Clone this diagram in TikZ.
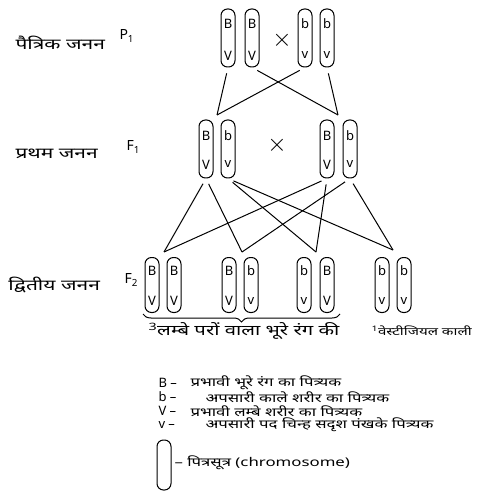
\documentclass[tikz,border=0pt]{standalone}
\usepackage{fontspec}
\setmainfont{Noto Sans}[Script=Devanagari]
\newfontfamily\chauda[Script=Devanagari, FakeStretch=1.4]{Noto Sans}
\usetikzlibrary{positioning, decorations.pathreplacing, calc}
\tikzset{
  every picture/.style={line width=1pt},
  chrom/.style={draw, rounded corners=6.5pt, minimum width=14pt, minimum height=58pt, inner sep=0pt},
  gene/.style={font=\fontsize{13}{13}\selectfont, inner sep=0pt},
  kross/.style={font=\fontsize{44}{44}\selectfont, inner sep=0pt},
  gen/.style={font=\chauda\fontsize{15}{17}\selectfont, anchor=west, inner sep=0pt},
  sym/.style={font=\fontsize{14}{14}\selectfont, anchor=west, inner sep=0pt},
  leg/.style={font=\chauda\fontsize{12}{14}\selectfont, anchor=west, inner sep=0pt},
  key/.style={font=\fontsize{13}{14}\selectfont, anchor=west, inner sep=0pt},
  ratio/.style={font=\chauda\fontsize{14.5}{17}\selectfont, inner sep=0pt},
  vansh/.style={line width=1pt, shorten <=6pt},
}

\begin{document}
\begin{tikzpicture}[x=1pt, y=-1pt]
  \useasboundingbox (0,0) rectangle (479,494);
  % generation labels
  \node[gen] (lp) at (15,43) {पैत्रिक जनन};
  \node[sym] (lpp) at (119,36) {P\textsubscript{1}};
  \node[gen] (lf) at (15,154) {प्रथम जनन};
  \node[sym] (lff) at (126,147) {F\textsubscript{1}};
  \node[gen] (ls) at (8,285) {द्वितीय जनन};
  \node[sym] (lss) at (124,280) {F\textsubscript{2}};
  % parents
  \foreach \n/\x/\t/\b in {pa/228/B/V, pb/252/B/V, pc/305/b/v, pd/327/b/v} {
    \node[chrom] (\n) at (\x,38) {};
    \node[gene] (\n t) at ([yshift=-15pt]\n.north) {\t};
    \node[gene] (\n b) at ([yshift=12pt]\n.south) {\b};
  }
  \node[kross] (xp) at (282,40) {$\times$};
  % first generation
  \foreach \n/\x/\t/\b in {fa/206/B/V, fb/228/b/v, fc/327/B/V, fd/350/b/v} {
    \node[chrom] (\n) at (\x,149) {};
    \node[gene] (\n t) at ([yshift=-16pt]\n.north) {\t};
    \node[gene] (\n b) at ([yshift=14pt]\n.south) {\b};
  }
  \node[kross] (xf) at (277,145) {$\times$};
  % second generation
  \foreach \n/\x/\t/\b in {sa/152/B/V, sb/174/B/V, sc/229/B/V, sd/251/b/v,
                           se/304/b/v, sf/327/B/V, sg/382/b/v, sh/404/b/v} {
    \node[chrom, minimum height=55pt] (\n) at (\x,285) {};
    \node[gene] (\n t) at ([yshift=-14pt]\n.north) {\t};
    \node[gene] (\n b) at ([yshift=12pt]\n.south) {\b};
  }
  % joins
  \coordinate (jf1) at (217,115);
  \coordinate (jf2) at (338,115);
  \coordinate (js1) at (164,252);
  \coordinate (js2) at (242,252);
  \coordinate (js3) at (316,252);
  \coordinate (js4) at (393,250);
  \foreach \a/\b in {pa/jf1, pb/jf2, pc/jf1, pd/jf2,
                     fa/js1, fa/js2, fb/js3, fb/js4,
                     fc/js1, fc/js3, fd/js2, fd/js4}
    \draw[vansh] (\a.south) -- (\b);
  % brace and ratio
  \draw[decorate, decoration={brace, mirror, amplitude=8pt}]
    (143,314) coordinate (bl) -- (340,314) coordinate (br);
  \node[ratio] (tin) at (244,331) {\textsuperscript{3}लम्बे परों वाला भूरे रंग की};
  \node[ratio, anchor=west, font=\chauda\fontsize{10.8}{13}\selectfont] (ek) at (371,331) {\textsuperscript{1}वेस्टीजियल काली};
  % legend
  \node[key] (kB) at (158,383) {B –};
  \node[leg] (tB) at (190,383) {प्रभावी भूरे रंग का पित्र्यक};
  \node[key] (kb) at (158,397) {b –};
  \node[leg] (tb) at (205,397) {अपसारी काले शरीर का पित्र्यक};
  \node[key] (kV) at (158,411) {V –};
  \node[leg] (tV) at (190,411) {प्रभावी लम्बे शरीर का पित्र्यक};
  \node[key] (kv) at (158,425) {v –};
  \node[leg] (tv) at (205,425) {अपसारी पद चिन्ह सदृश पंखके पित्र्यक};
  \node[chrom, minimum height=50pt] (kc) at (164,465) {};
  \node[leg] (tc) at (174,463) {– पित्रसूत्र (chromosome)};
\end{tikzpicture}
\end{document}
